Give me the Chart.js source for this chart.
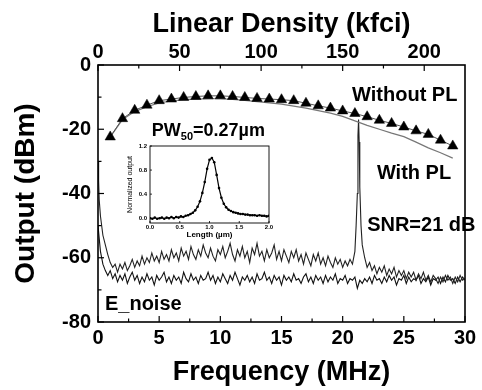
<!DOCTYPE html>
<html>
<head>
<meta charset="utf-8">
<script src="https://cdn.jsdelivr.net/npm/chart.js@4.4.1/dist/chart.umd.min.js"></script>
<style>
  html, body { margin: 0; padding: 0; background: #fff; }
  #wrap { position: relative; width: 482px; height: 390px; }
  #main { position: absolute; left: 0; top: 0; }
  #inset { position: absolute; left: 118px; top: 136px; }
</style>
</head>
<body>
<div id="wrap">
  <canvas id="main" width="482" height="390"></canvas>
  <canvas id="inset" width="158" height="104"></canvas>
</div>
<script>
// ---------- DATA ----------
// "Without PL" (triangles), frequency in MHz, output in dBm
const withoutFreq = [1,2,3,4,5,6,7,8,9,10,11,12,13,14,15,16,17,18,19,20,21,22,23,24,25,26,27,28,29];
const withoutVal  = [-22.4,-16.7,-14.1,-12.5,-11.1,-10.6,-10.1,-9.8,-9.6,-9.6,-9.8,-10.1,-10.4,-10.6,-10.8,
                     -11.1,-11.9,-12.7,-13.4,-14.3,-15.1,-16.1,-17.2,-18.2,-19.3,-20.5,-21.6,-23.4,-25.2];
// "With PL" (gray line)
const withFreq = [1,2,3,4,5,6,7,8,9,10,11,12,13,14,15,16,17,18,19,20,21,22,23,24,25,26,27,28,29];
const withVal  = [-22.4,-17.0,-14.5,-13.0,-11.8,-11.2,-10.8,-10.6,-10.5,-10.5,-10.7,-11.0,-11.4,-11.8,-12.2,
                  -12.8,-13.4,-14.2,-15.0,-16.0,-17.4,-18.8,-20.0,-21.2,-22.3,-24.0,-25.8,-27.3,-29.0];
// noise spectra sampled every 0.2 MHz from 0 to 30 MHz
const noiseFreq = Array.from({length: 151}, (_, i) => Math.round(i * 2) / 10);
const noiseUpper = [
  -30,-47,-53,-56,-59,-61.5,-63,-62,-64.5,-62,
  -63.5,-61.5,-64,-62.5,-60.5,-63,-61,-62.5,-59.5,-62,
  -60,-61.5,-58.5,-61,-59.5,-61.5,-58,-60.5,-59,-61,
  -57.5,-60,-58.5,-61,-57,-59.5,-58,-60.5,-56.5,-59,
  -60.5,-57.5,-59.5,-56,-58.5,-60,-57,-59.5,-61,-57.5,
  -59,-56.5,-60,-58,-55.5,-59,-61,-57.5,-59.5,-56.5,
  -60,-58,-61.5,-57,-59,-55.5,-59.5,-58,-61,-57.5,
  -60,-58.5,-56,-60.5,-58,-61,-57.5,-59.5,-61.5,-58,
  -60,-57.5,-61,-59,-62,-58.5,-60.5,-62.5,-59,-61,
  -58.5,-62,-60,-62.5,-59.5,-61.5,-63,-60,-62,-60.5,
  -63,-61,-62.5,-60.5,-62,-58,-40,-38,-56,-60,
  -63,-61.5,-64,-62.5,-65,-63,-64.5,-62.5,-65.5,-63.5,
  -65,-63,-66,-64,-65.5,-64,-66.5,-64.5,-66,-64.5,
  -67,-65,-66.5,-64.5,-67,-65.5,-67.5,-65.5,-66.5,-68,
  -66,-67.5,-65.5,-67,-66,-68,-66,-67.5,-65.5,-67,
  -66.5
];
const noiseLower = [
  -50,-58,-62,-64,-65.5,-64,-66.5,-65,-67.5,-65.5,
  -67,-65,-68,-66,-64.5,-67,-65.5,-68,-66,-67.5,
  -65,-67,-66,-68.5,-65.5,-67,-66,-64.5,-67.5,-66,
  -68,-65.5,-67,-66,-68,-64.5,-66.5,-67.5,-65,-67,
  -66,-68,-65.5,-67,-66.5,-64.5,-67,-65.5,-68,-66,
  -67.5,-65,-66.5,-68,-65.5,-67,-64.5,-66.5,-68.5,-66,
  -67,-65.5,-67.5,-66,-68,-65,-67,-66.5,-64.5,-67,
  -66,-68,-65.5,-67,-66,-68.5,-65.5,-67,-66,-67.5,
  -65,-67,-66.5,-68,-66,-65,-67.5,-66,-68,-65.5,
  -67,-66,-68,-65.5,-67.5,-66,-67,-65,-68,-66.5,
  -67,-65.5,-68,-66.5,-67,-66,-69.5,-67,-68,-66.5,
  -67.5,-66,-68,-65.5,-67,-66.5,-68,-66,-67.5,-65.5,
  -67,-66,-68.5,-66.5,-67,-65.5,-68,-66,-67.5,-66.5,
  -67,-65.5,-68,-66.5,-67.5,-66,-68.5,-66.5,-67,-66,
  -68,-66,-67.5,-65.5,-67,-66.5,-68,-66,-67.5,-66,
  -67
];
// extra samples: low-frequency rise and the signal line at ~21.3 MHz
const dcFreq = [0.05, 0.1];
const dcVal  = [-36, -42];
const spikeFreq = [21.1, 21.25, 21.3, 21.35, 21.5];
const spikeVal  = [-50, -22, -17, -24, -50];
// axis ticks
const freqMajor = [0,5,10,15,20,25,30];
const freqMinor = [2.5,7.5,12.5,17.5,22.5,27.5];
const kfciMajor = [0,50,100,150,200];
const kfciMinor = [25,75,125,175];
const dbmMajor = [-80,-60,-40,-20,0];
const dbmMinor = [-70,-50,-30,-10];
// inset: normalized readback pulse
const pulseLen = [0.00,0.04,0.08,0.12,0.16,0.20,0.24,0.28,0.32,0.36,0.40,0.44,0.48,0.52,0.56,0.60,0.64,0.68,0.72,0.76,
                  0.80,0.84,0.88,0.92,0.96,1.00,1.04,1.08,1.12,1.16,1.20,1.24,1.28,1.32,1.36,1.40,1.44,1.48,1.52,1.56,
                  1.60,1.64,1.68,1.72,1.76,1.80,1.84,1.88,1.92,1.96,2.00];
const pulseVal = [0.00,-0.01,0.01,-0.01,0.00,0.01,-0.01,0.01,0.00,0.02,0.00,0.02,0.01,0.03,0.02,0.04,0.05,0.07,0.09,0.13,
                  0.19,0.28,0.42,0.60,0.82,0.97,1.00,0.93,0.72,0.50,0.34,0.24,0.18,0.14,0.12,0.10,0.09,0.08,0.07,0.07,
                  0.06,0.06,0.05,0.05,0.05,0.04,0.05,0.04,0.04,0.03,0.04];
const insetXTicks = [0, 0.5, 1.0, 1.5, 2.0];
const insetYTicks = [0, 0.4, 0.8, 1.2];

// ---------- BUILD ----------
const FONT = "'Liberation Sans', Arial, Helvetica, sans-serif";
Chart.defaults.font.family = FONT;
Chart.defaults.color = '#000';

const pts = (xs, ys) => xs.map((x, i) => ({x, y: ys[i]}));
const upperPts = pts(noiseFreq, noiseUpper).concat(pts(dcFreq, dcVal), pts(spikeFreq, spikeVal)).sort((a, b) => a.x - b.x);
const lowerPts = pts(noiseFreq, noiseLower);

const frameTicks = {
  id: 'frameTicks',
  afterDatasetsDraw(chart, args, o) {
    const {ctx, chartArea: a} = chart;
    ctx.save();
    ctx.strokeStyle = '#000';
    ctx.lineWidth = o.lineWidth;
    ctx.strokeRect(a.left, a.top, a.right - a.left, a.bottom - a.top);
    ctx.lineWidth = o.tickWidth;
    for (const spec of o.axes) {
      const s = chart.scales[spec.id];
      const draw = (vals, len) => vals.forEach(v => {
        const p = s.getPixelForValue(v);
        ctx.beginPath();
        if (spec.side === 'bottom') { ctx.moveTo(p, a.bottom); ctx.lineTo(p, a.bottom - len); }
        else if (spec.side === 'top') { ctx.moveTo(p, a.top); ctx.lineTo(p, a.top + len); }
        else { ctx.moveTo(a.left, p); ctx.lineTo(a.left + len, p); }
        ctx.stroke();
      });
      draw(spec.major, o.major);
      draw(spec.minor || [], o.minor);
    }
    ctx.restore();
  }
};

const textLabels = {
  id: 'textLabels',
  afterDatasetsDraw(chart) {
    const {ctx} = chart;
    const xs = chart.scales.x, ys = chart.scales.y;
    ctx.save();
    ctx.fillStyle = '#000';
    ctx.textBaseline = 'alphabetic';
    ctx.textAlign = 'left';
    const put = (t, fx, fy, size) => {
      ctx.font = `bold ${size}px ${FONT}`;
      ctx.fillText(t, xs.getPixelForValue(fx), ys.getPixelForValue(fy));
    };
    put('Without PL', 20.77, -11.2, 20);
    put('With PL', 22.8, -35.6, 20);
    put('SNR=21 dB', 22.0, -51.8, 20);
    put('E_noise', 0.57, -76.2, 20);
    // PW50 = 0.27 µm with subscript
    let px = xs.getPixelForValue(4.4), py = ys.getPixelForValue(-22.1);
    ctx.font = `bold 18px ${FONT}`;
    ctx.fillText('PW', px, py); px += ctx.measureText('PW').width;
    ctx.font = `bold 11px ${FONT}`;
    ctx.fillText('50', px, py + 4); px += ctx.measureText('50').width;
    ctx.font = `bold 18px ${FONT}`;
    ctx.fillText('=0.27\u00B5m', px, py);
    ctx.restore();
  }
};

const tickFont = {size: 20, weight: 'bold'};
const titleFont = {size: 27, weight: 'bold'};

new Chart(document.getElementById('main'), {
  type: 'scatter',
  data: {
    datasets: [
      { label: 'Without PL', data: pts(withoutFreq, withoutVal), showLine: true,
        borderColor: '#555', borderWidth: 1, pointStyle: 'triangle', pointRadius: 6,
        pointBackgroundColor: '#000', pointBorderColor: '#000', pointBorderWidth: 0.5 },
      { label: 'With PL', data: pts(withFreq, withVal), showLine: true,
        borderColor: '#777', borderWidth: 1.2, pointRadius: 0 },
      { label: 'Signal noise', data: upperPts, showLine: true,
        borderColor: '#222', borderWidth: 1.1, pointRadius: 0 },
      { label: 'E_noise', data: lowerPts, showLine: true,
        borderColor: '#111', borderWidth: 1.1, pointRadius: 0 }
    ]
  },
  options: {
    responsive: false,
    animation: false,
    devicePixelRatio: 1,
    layout: { padding: { left: 0, right: 17, top: 0, bottom: 0 } },
    plugins: {
      legend: { display: false },
      tooltip: { enabled: false },
      frameTicks: {
        lineWidth: 1.6, tickWidth: 1.2, major: 6, minor: 3.5,
        axes: [
          { id: 'x', side: 'bottom', major: freqMajor, minor: freqMinor },
          { id: 'x2', side: 'top', major: kfciMajor, minor: kfciMinor },
          { id: 'y', side: 'left', major: dbmMajor, minor: dbmMinor }
        ]
      }
    },
    scales: {
      x: {
        type: 'linear', position: 'bottom', min: 0, max: 30,
        afterBuildTicks: s => { s.ticks = freqMajor.map(v => ({value: v})); },
        afterFit: s => { s.height = 68; },
        ticks: { font: tickFont, color: '#000', padding: 4, maxRotation: 0, autoSkip: false },
        grid: { display: false, drawTicks: false },
        border: { display: false },
        title: { display: true, text: 'Frequency (MHz)', font: titleFont, color: '#000', padding: { top: 0, bottom: 1 } }
      },
      x2: {
        type: 'linear', position: 'top', min: 0, max: 225,
        afterBuildTicks: s => { s.ticks = kfciMajor.map(v => ({value: v})); },
        afterFit: s => { s.height = 65; },
        ticks: { font: tickFont, color: '#000', padding: 1, maxRotation: 0, autoSkip: false },
        grid: { display: false, drawTicks: false },
        border: { display: false },
        title: { display: true, text: 'Linear Density (kfci)', font: titleFont, color: '#000', padding: { top: 8, bottom: 0 } }
      },
      y: {
        type: 'linear', position: 'left', min: -80, max: 0,
        afterBuildTicks: s => { s.ticks = dbmMajor.map(v => ({value: v})); },
        afterFit: s => { s.width = 98; },
        ticks: { font: tickFont, color: '#000', padding: 7, autoSkip: false },
        grid: { display: false, drawTicks: false },
        border: { display: false },
        title: { display: true, text: 'Output (dBm)', font: { size: 28, weight: 'bold' }, color: '#000', padding: { top: 9, bottom: 0 } }
      }
    }
  },
  plugins: [frameTicks, textLabels]
});

// ---------- INSET ----------
new Chart(document.getElementById('inset'), {
  type: 'scatter',
  data: {
    datasets: [
      { label: 'pulse', data: pts(pulseLen, pulseVal), showLine: true,
        borderColor: '#000', borderWidth: 1.2, pointRadius: 1.3, pointBackgroundColor: '#000',
        pointBorderColor: '#000', pointBorderWidth: 0 }
    ]
  },
  options: {
    responsive: false,
    animation: false,
    devicePixelRatio: 1,
    layout: { padding: { left: 0, right: 7, top: 10, bottom: 0 } },
    plugins: {
      legend: { display: false },
      tooltip: { enabled: false },
      frameTicks: {
        lineWidth: 0.9, tickWidth: 0.8, major: 2, minor: 0,
        axes: [
          { id: 'x', side: 'bottom', major: insetXTicks },
          { id: 'y', side: 'left', major: insetYTicks }
        ]
      }
    },
    scales: {
      x: {
        type: 'linear', min: 0, max: 2,
        afterBuildTicks: s => { s.ticks = insetXTicks.map(v => ({value: v})); },
        afterFit: s => { s.height = 17; },
        ticks: { font: { size: 6, weight: 'bold' }, color: '#000', padding: 1, maxRotation: 0, autoSkip: false,
                 callback: v => v.toFixed(1) },
        grid: { display: false, drawTicks: false },
        border: { display: false },
        title: { display: true, text: 'Length (\u00B5m)', font: { size: 8, weight: 'bold' }, color: '#000', padding: { top: 0, bottom: 0 } }
      },
      y: {
        type: 'linear', min: -0.08, max: 1.2,
        afterBuildTicks: s => { s.ticks = insetYTicks.map(v => ({value: v})); },
        afterFit: s => { s.width = 32; },
        ticks: { font: { size: 6, weight: 'bold' }, color: '#000', padding: 3, autoSkip: false,
                 callback: v => v.toFixed(1) },
        grid: { display: false, drawTicks: false },
        border: { display: false },
        title: { display: true, text: 'Normalized output', font: { size: 7 }, color: '#000', padding: { top: 8, bottom: 0 } }
      }
    }
  },
  plugins: [frameTicks]
});
</script>
</body>
</html>
